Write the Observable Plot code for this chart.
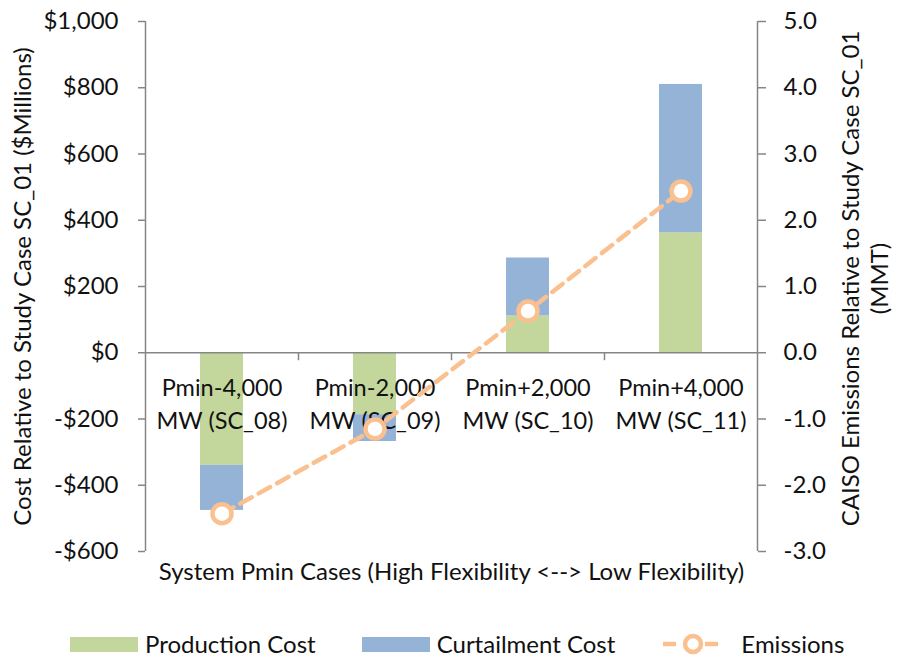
<!DOCTYPE html>
<html>
<head>
<meta charset="utf-8">
<script src="https://cdn.jsdelivr.net/npm/d3@7"></script>
<script src="https://cdn.jsdelivr.net/npm/@observablehq/plot@0.6"></script>
<style>
  body { margin: 0; background: #fff; font-family: Lato, "Open Sans", sans-serif; }
  #chart { width: 897px; }
  .legend { display: flex; align-items: center; margin-top: 30px; margin-left: 70px; font-size: 24px; color: #111; line-height: 28px; }
  .legend .sw { width: 68px; height: 15px; display: inline-block; margin-right: 7px; }
  .legend .item { display: flex; align-items: center; margin-right: 46px; }
</style>
</head>
<body>
<div id="chart"></div>
<script>
// 데이터
const caseIds = ["SC_08", "SC_09", "SC_10", "SC_11"];
const caseLabels = ["Pmin-4,000\nMW (SC_08)", "Pmin-2,000\nMW (SC_09)", "Pmin+2,000\nMW (SC_10)", "Pmin+4,000\nMW (SC_11)"];
const productionCost = [-340, -187, 111, 362];   // $Millions
const curtailmentCost = [-136, -81, 175, 448];   // $Millions
const emissions = [-2.43, -1.15, 0.63, 2.44];    // MMT
const costTicks = [-600, -400, -200, 0, 200, 400, 600, 800, 1000];
const emissionTicks = [-3, -2, -1, 0, 1, 2, 3, 4, 5];
const seriesNames = ["Production Cost", "Curtailment Cost"];
const seriesColors = ["#C3D69B", "#95B3D7"];
const emissionColor = "#FAC090";
const axisColor = "#868686";

// 오른쪽 축(배출량) -> 왼쪽 축(비용) 변환 비율
const ratio = 1000 / 5;

const rows = [];
caseIds.forEach((c, i) => {
    rows.push({ case: c, type: seriesNames[0], value: productionCost[i] });
    rows.push({ case: c, type: seriesNames[1], value: curtailmentCost[i] });
});
const emRows = caseIds.map((c, i) => ({ case: c, value: emissions[i] * ratio }));

const width = 897, marginLeft = 145, marginRight = 140;
const step = (width - marginLeft - marginRight) / caseIds.length;
const font = "Lato, 'Open Sans', sans-serif";

const chart = Plot.plot({
    width,
    height: 600,
    marginTop: 21,
    marginBottom: 49,
    marginLeft,
    marginRight,
    style: { fontFamily: font, fontSize: "24px", color: "#111", background: "#fff" },
    x: { domain: caseIds, paddingInner: 0.72, paddingOuter: 0.36, axis: null },
    y: { domain: [-600, 1000], axis: null },
    color: { domain: seriesNames, range: seriesColors },
    marks: [
        Plot.barY(rows, { x: "case", y: "value", fill: "type", order: seriesNames }),
        // 축선
        Plot.ruleY([0], { stroke: axisColor, strokeWidth: 1.5 }),
        Plot.ruleX([caseIds[0]], { y1: -600, y2: 1000, dx: -step / 2, stroke: axisColor, strokeWidth: 1.5 }),
        Plot.ruleX([caseIds[caseIds.length - 1]], { y1: -600, y2: 1000, dx: step / 2, stroke: axisColor, strokeWidth: 1.5 }),
        Plot.ruleX(caseIds.slice(1), { y1: 0, y2: -24, dx: -step / 2, stroke: axisColor, strokeWidth: 1.5 }),
        Plot.axisY({ anchor: "left", ticks: costTicks, tickSize: 7, tickPadding: 20, stroke: axisColor, strokeWidth: 1.5,
            tickFormat: d => (d < 0 ? "-$" : "$") + d3.format(",")(Math.abs(d)), fontSize: 24, fill: "#111", label: null }),
        Plot.axisY({ anchor: "right", ticks: emissionTicks.map(d => d * ratio), tickSize: 8, tickPadding: 18, stroke: axisColor, strokeWidth: 1.5,
            tickFormat: d => (d / ratio).toFixed(1), fontSize: 24, fill: "#111", label: null }),
        // 카테고리 라벨
        Plot.text(caseIds, { x: d => d, y: 0, text: (d, i) => caseLabels[i], lineAnchor: "top", dy: 20, lineHeight: 1.4, fontSize: 23.5, fill: "#111" }),
        // 축 제목
        Plot.text(["System Pmin Cases (High Flexibility <--> Low Flexibility)"], { frameAnchor: "bottom", dy: 28, fontSize: 24, fill: "#111" }),
        Plot.text(["Cost Relative to Study Case SC_01 ($Millions)"], { frameAnchor: "left", textAnchor: "middle", rotate: -90, dx: -122, fontSize: 24, fill: "#111" }),
        Plot.text(["CAISO Emissions Relative to Study Case SC_01\n(MMT)"], { frameAnchor: "right", textAnchor: "middle", rotate: -90, dx: 107, dy: -8, lineHeight: 1.2, fontSize: 24, fill: "#111" }),
        // 배출량
        Plot.line(emRows, { x: "case", y: "value", stroke: emissionColor, strokeWidth: 4.5, strokeDasharray: "13,8" }),
        Plot.dot(emRows, { x: "case", y: "value", r: 9.5, fill: "#fff", stroke: emissionColor, strokeWidth: 4.5 }),
    ],
});

document.getElementById("chart").appendChild(chart);

const legend = document.createElement("div");
legend.className = "legend";
seriesNames.forEach((name, i) => {
    const item = document.createElement("div");
    item.className = "item";
    item.innerHTML = `<span class="sw" style="background:${seriesColors[i]}"></span>${name}`;
    legend.appendChild(item);
});
const em = document.createElement("div");
em.className = "item";
em.innerHTML = `<svg width="64" height="24" style="margin-right:16px"><line x1="2" x2="62" y1="12" y2="12" stroke="${emissionColor}" stroke-width="4.5" stroke-dasharray="13,8"/><circle cx="32" cy="12" r="8" fill="#fff" stroke="${emissionColor}" stroke-width="4.5"/></svg>Emissions`;
legend.appendChild(em);
document.getElementById("chart").appendChild(legend);
</script>
</body>
</html>
